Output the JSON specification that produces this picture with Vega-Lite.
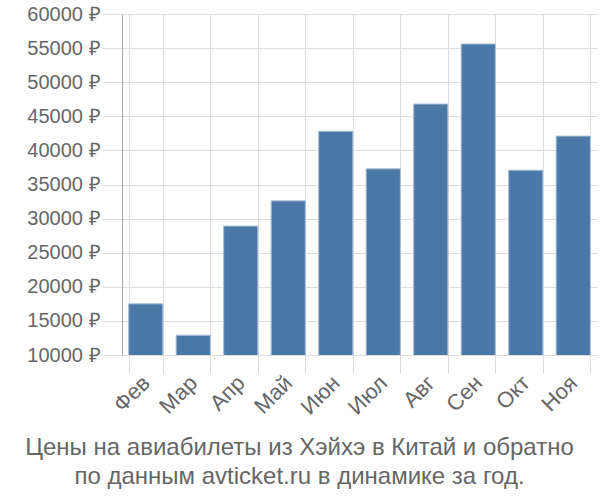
{
  "$schema": "https://vega.github.io/schema/vega-lite/v6.json",
  "width": 475,
  "height": 341,
  "autosize": {"type": "none"},
  "padding": {"left": 122, "top": 14, "right": 3, "bottom": 145},
  "background": "white",
  "config": {
    "font": "Liberation Sans",
    "view": {"stroke": null}
  },
  "title": {
    "text": ["Цены на авиабилеты из Хэйхэ в Китай и обратно", "по данным avticket.ru в динамике за год."],
    "orient": "bottom",
    "anchor": "middle",
    "dx": -60,
    "offset": 18,
    "fontSize": 24,
    "fontWeight": "normal",
    "color": "#666666",
    "lineHeight": 29,
    "font": "Liberation Sans"
  },
  "data": {
    "values": [
      {"month": "Фев", "price": 17500},
      {"month": "Мар", "price": 12900},
      {"month": "Апр", "price": 28900},
      {"month": "Май", "price": 32600},
      {"month": "Июн", "price": 42800},
      {"month": "Июл", "price": 37300},
      {"month": "Авг", "price": 46800},
      {"month": "Сен", "price": 55600},
      {"month": "Окт", "price": 37100},
      {"month": "Ноя", "price": 42100}
    ]
  },
  "mark": {"type": "bar", "color": "#4c78a8", "stroke": "#a9bfd8", "strokeWidth": 1, "clip": true},
  "encoding": {
    "x": {
      "field": "month",
      "type": "nominal",
      "sort": null,
      "scale": {"paddingInner": 0.28, "paddingOuter": 0.14},
      "axis": {
        "title": null,
        "labelAngle": -45,
        "labelAlign": "right",
        "labelBaseline": "middle",
        "labelFontSize": 22,
        "labelColor": "#666666",
        "labelPadding": 6,
        "grid": true,
        "gridColor": "#dddddd",
        "bandPosition": 0,
        "tickSize": 18,
        "tickColor": "#dddddd",
        "domainColor": "#dddddd",
        "tickBand": "extent"
      }
    },
    "y": {
      "field": "price",
      "type": "quantitative",
      "scale": {"domain": [10000, 60000], "zero": false, "nice": false},
      "axis": {
        "title": null,
        "values": [10000, 15000, 20000, 25000, 30000, 35000, 40000, 45000, 50000, 55000, 60000],
        "labelExpr": "datum.value + ' ₽'",
        "labelFontSize": 20,
        "labelColor": "#666666",
        "labelPadding": 2,
        "tickSize": 20,
        "tickColor": "#dddddd",
        "gridColor": "#dddddd",
        "domainColor": "#aaaaaa",
        "grid": true
      }
    }
  }
}
